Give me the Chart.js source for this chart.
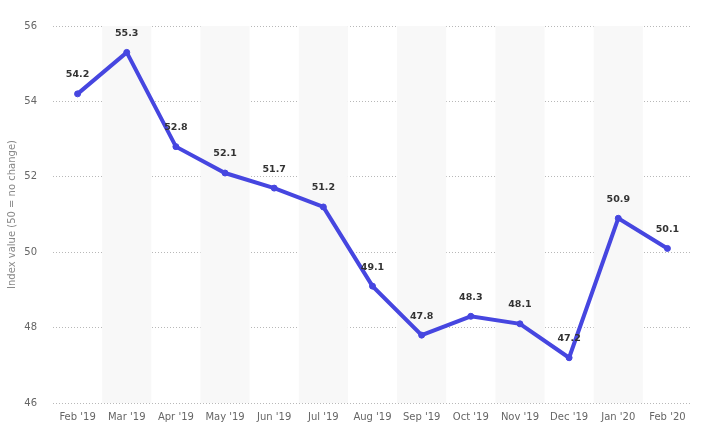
<!DOCTYPE html>
<html><head><meta charset="utf-8">
<script src="https://cdn.jsdelivr.net/npm/chart.js@4"></script>
<style>html,body{margin:0;padding:0;background:#fff}#wrap{width:703px;height:440px}</style>
</head><body><div id="wrap"><canvas id="c"></canvas></div>
<script>
const categories = ["Feb '19","Mar '19","Apr '19","May '19","Jun '19","Jul '19","Aug '19","Sep '19","Oct '19","Nov '19","Dec '19","Jan '20","Feb '20"];
const indexValues = [54.2,55.3,52.8,52.1,51.7,51.2,49.1,47.8,48.3,48.1,47.2,50.9,50.1];
const yTicks = [46,48,50,52,54,56];
const yTitle = "Index value (50 = no change)";

const FONT = "'DejaVu Sans', sans-serif";

const bands = {
  id: 'bands',
  beforeDatasetsDraw(chart) {
    const {ctx, chartArea, scales} = chart;
    const x = scales.x;
    ctx.save();
    ctx.fillStyle = '#f8f8f8';
    for (let i = 1; i < categories.length; i += 2) {
      const c = x.getPixelForValue(i);
      const w = x.getPixelForValue(1) - x.getPixelForValue(0);
      ctx.fillRect(c - w/2, chartArea.top, w, chartArea.bottom - chartArea.top);
    }
    ctx.restore();
  }
};
const labels = {
  id: 'labels',
  afterDatasetsDraw(chart) {
    const {ctx} = chart;
    const meta = chart.getDatasetMeta(0);
    ctx.save();
    ctx.font = "bold 9.5px " + FONT;
    ctx.fillStyle = '#333';
    ctx.textAlign = 'center';
    ctx.textBaseline = 'middle';
    meta.data.forEach((p, i) => {
      ctx.fillText(indexValues[i].toFixed(1), p.x, p.y - 19);
    });
    ctx.restore();
  }
};

new Chart(document.getElementById('c'), {
  type: 'line',
  data: {
    labels: categories,
    datasets: [{
      data: indexValues,
      borderColor: '#4646e0',
      backgroundColor: '#4646e0',
      borderWidth: 4,
      pointRadius: 3,
      pointBorderWidth: 1,
      pointHoverRadius: 3,
      tension: 0,
      clip: false
    }]
  },
  options: {
    responsive: true,
    maintainAspectRatio: false,
    animation: false,
    layout: {padding: {top: 26, right: 11, left: 0, bottom: 0}},
    plugins: {legend: {display: false}, tooltip: {enabled: false}},
    scales: {
      x: {
        offset: true,
        grid: {display: false, drawTicks: false},
        border: {display: false},
        ticks: {color: '#666', font: {family: FONT, size: 10}, padding: 8, maxRotation: 0, autoSkip: false},
        afterFit(s) { s.height = 37; }
      },
      y: {
        min: 46, max: 56,
        afterBuildTicks(s) { s.ticks = yTicks.map(v => ({value: v})); },
        grid: {color: '#b8b8b8', lineWidth: 1, drawTicks: false},
        border: {display: false, dash: [1, 2]},
        ticks: {color: '#666', font: {family: FONT, size: 10}, padding: 16},
        title: {display: true, text: yTitle, color: '#888', font: {family: FONT, size: 10}, padding: {top: 6, bottom: 4}},
        afterFit(s) { s.width = 53; }
      }
    }
  },
  plugins: [bands, labels]
});
</script></body></html>
